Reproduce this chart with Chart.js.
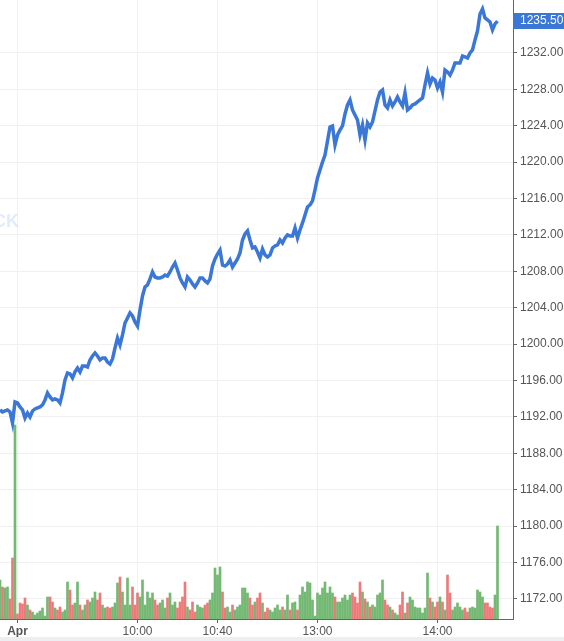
<!DOCTYPE html>
<html>
<head>
<meta charset="utf-8">
<script src="https://cdn.jsdelivr.net/npm/chart.js@4"></script>
<style>
    html, body { margin: 0; padding: 0; background: #eceef2; }
    #wrap { width: 564px; height: 637px; background: #fff; }
</style>
</head>
<body>
<div id="wrap"><canvas id="priceChart" width="564" height="637"></canvas></div>
<script>
// Price per bar (intraday, roughly 200 bars)
const prices = [
    1192.77, 1192.55, 1192.66, 1192.77, 1192.55, 1191.34, 1193.65, 1193.54, 1193.10, 1192.77,
    1191.89, 1192.44, 1192.00, 1192.66, 1192.88, 1192.99, 1193.10, 1193.32, 1193.87, 1194.64,
    1194.20, 1193.87, 1193.98, 1193.87, 1193.54, 1194.64, 1196.07, 1196.84, 1196.73, 1196.29,
    1196.95, 1197.38, 1196.95, 1197.60, 1197.60, 1197.49, 1198.26, 1198.70, 1199.03, 1198.70,
    1198.26, 1198.48, 1198.48, 1198.04, 1197.82, 1198.37, 1199.58, 1200.68, 1199.91, 1201.01,
    1202.33, 1202.88, 1203.43, 1203.10, 1202.44, 1202.00, 1203.76, 1205.30, 1206.29, 1206.51,
    1207.17, 1207.93, 1207.38, 1207.28, 1207.28, 1207.38, 1207.60, 1207.49, 1207.93, 1208.48,
    1208.92, 1208.15, 1207.28, 1206.73, 1206.29, 1207.38, 1207.06, 1206.62, 1206.29, 1206.73,
    1207.28, 1207.28, 1206.95, 1206.73, 1207.17, 1208.59, 1209.36, 1209.91, 1210.35, 1208.70,
    1208.59, 1208.81, 1209.25, 1208.48, 1208.92, 1209.36, 1210.02, 1211.45, 1212.11, 1212.44,
    1211.45, 1210.57, 1210.68, 1210.13, 1209.47, 1210.46, 1209.80, 1209.58, 1209.80, 1210.57,
    1210.79, 1210.90, 1211.45, 1211.12, 1211.67, 1212.00, 1211.89, 1211.89, 1212.77, 1211.67,
    1212.55, 1213.32, 1214.20, 1215.08, 1215.30, 1215.74, 1216.95, 1218.26, 1219.14, 1220.02,
    1220.79, 1222.33, 1223.87, 1223.98, 1221.89, 1222.99, 1223.54, 1223.98, 1225.30, 1226.29,
    1226.84, 1225.74, 1225.19, 1224.64, 1222.99, 1224.09, 1222.44, 1224.31, 1223.87, 1224.42,
    1225.63, 1226.84, 1227.71, 1227.93, 1226.29, 1225.96, 1226.84, 1226.18, 1226.62, 1227.17,
    1226.62, 1226.18, 1227.60, 1225.74, 1225.96, 1226.29, 1226.40, 1226.62, 1226.84, 1227.06,
    1228.48, 1229.80, 1228.59, 1229.25, 1229.03, 1228.15, 1228.81, 1227.71, 1230.13, 1229.91,
    1229.58, 1230.13, 1230.90, 1230.90, 1230.90, 1231.67, 1231.56, 1231.45, 1232.00, 1232.33,
    1233.43, 1234.42, 1236.29, 1236.84, 1235.85, 1235.63, 1235.41, 1234.53, 1235.19, 1235.50
];

// Volume per bar (relative units)
const volumes = [
    39, 32, 31, 32, 20, 61, 194, 5, 16, 15,
    21, 14, 9, 7, 4, 6, 8, 11, 3, 22,
    22, 17, 11, 9, 12, 7, 9, 37, 29, 14,
    16, 37, 14, 9, 14, 19, 17, 21, 27, 19,
    26, 14, 11, 12, 11, 12, 16, 36, 42, 27,
    14, 41, 14, 32, 14, 26, 22, 39, 14, 27,
    21, 26, 19, 14, 16, 19, 11, 21, 26, 14,
    17, 11, 17, 22, 37, 12, 9, 17, 7, 14,
    12, 11, 14, 16, 19, 26, 51, 44, 52, 27,
    11, 12, 7, 14, 9, 12, 14, 31, 31, 26,
    21, 14, 17, 21, 26, 16, 7, 11, 9, 7,
    11, 14, 9, 12, 9, 24, 9, 16, 17, 9,
    24, 32, 27, 37, 36, 19, 3, 26, 24, 31,
    37, 26, 32, 26, 22, 17, 17, 21, 24, 19,
    24, 26, 22, 16, 37, 27, 20, 17, 12, 14,
    12, 24, 26, 39, 19, 14, 12, 9, 6, 4,
    14, 27, 6, 16, 22, 19, 12, 11, 11, 6,
    11, 46, 21, 17, 12, 17, 22, 17, 9, 44,
    26, 9, 12, 16, 12, 9, 11, 7, 11, 12,
    11, 29, 27, 22, 16, 16, 12, 11, 24, 93
];

// Time axis labels and the bar index they sit on
const timeLabels = ['Apr', '10:00', '10:40', '13:00', '14:00'];
const timeIndex = [7, 55, 87, 127, 175];

// Price axis ticks
const priceTicks = [1172, 1176, 1180, 1184, 1188, 1192, 1196, 1200, 1204, 1208, 1212, 1216, 1220, 1224, 1228, 1232];

const lastPrice = prices[prices.length - 1];
const blue = '#3a77d6';

// Up/down colouring of the volume bars
const barColors = prices.map((p, i) => (i === 0 || p >= prices[i - 1]) ? 'rgba(100,176,100,0.9)' : 'rgba(234,108,108,0.9)');

// Faint watermark on the left edge
const watermark = {
    id: 'watermark',
    beforeDatasetsDraw(chart) {
        const ctx = chart.ctx;
        ctx.save();
        ctx.font = 'bold 18px "Liberation Sans", Arial, sans-serif';
        ctx.fillStyle = 'rgba(70,130,220,0.16)';
        ctx.textAlign = 'right';
        ctx.textBaseline = 'middle';
        ctx.fillText('STOCK', 19, 222);
        ctx.restore();
    }
};

// Last price box on the right axis
const lastPriceTag = {
    id: 'lastPriceTag',
    afterDraw(chart) {
        const ctx = chart.ctx;
        const area = chart.chartArea;
        const y = chart.scales.y.getPixelForValue(lastPrice);
        ctx.save();
        ctx.fillStyle = blue;
        ctx.fillRect(area.right, Math.round(y) - 8, chart.width - area.right, 16);
        ctx.fillStyle = '#fff';
        ctx.font = '12px "Liberation Sans", Arial, sans-serif';
        ctx.textAlign = 'left';
        ctx.textBaseline = 'middle';
        ctx.fillText(lastPrice.toFixed(2), area.right + 7, Math.round(y));
        ctx.restore();
    }
};

new Chart(document.getElementById('priceChart').getContext('2d'), {
    data: {
        datasets: [{
            type: 'line',
            data: prices.map((p, i) => ({ x: i, y: p })),
            borderColor: blue,
            borderWidth: 3.5,
            pointRadius: 0,
            tension: 0,
            yAxisID: 'y',
            order: 0
        }, {
            type: 'bar',
            data: volumes.map((v, i) => ({ x: i, y: v })),
            backgroundColor: barColors,
            barThickness: 2,
            yAxisID: 'vol',
            order: 1
        }]
    },
    options: {
        responsive: false,
        animation: false,
        layout: { padding: 0 },
        plugins: {
            legend: { display: false },
            tooltip: { enabled: false }
        },
        scales: {
            x: {
                type: 'linear',
                offset: false,
                min: 0,
                max: 205.2,
                afterBuildTicks: scale => { scale.ticks = timeIndex.map(v => ({ value: v })); },
                afterFit: scale => { scale.height = 18; scale.paddingLeft = 0; scale.paddingRight = 0; },
                ticks: {
                    autoSkip: false,
                    maxRotation: 0,
                    padding: 1,
                    color: '#555',
                    font: ctx => ({ family: '"Liberation Sans", Arial, sans-serif', size: 12, weight: ctx.index === 0 ? 'bold' : 'normal' }),
                    callback: (value, index) => timeLabels[index]
                },
                grid: { offset: false, color: '#f0f0f0', tickColor: '#666', tickLength: 4 },
                border: { color: '#666' }
            },
            y: {
                position: 'right',
                min: 1169.8,
                max: 1237.82,
                afterBuildTicks: scale => { scale.ticks = priceTicks.map(v => ({ value: v })); },
                afterFit: scale => { scale.width = 51; scale.paddingTop = 0; scale.paddingBottom = 0; },
                ticks: {
                    padding: 3,
                    color: '#555',
                    font: { family: '"Liberation Sans", Arial, sans-serif', size: 12 },
                    callback: v => v.toFixed(2)
                },
                grid: { color: '#f0f0f0', tickColor: '#666', tickLength: 4 },
                border: { color: '#666' }
            },
            vol: {
                display: false,
                min: 0,
                max: 619
            }
        }
    },
    plugins: [watermark, lastPriceTag]
});
</script>
</body>
</html>
